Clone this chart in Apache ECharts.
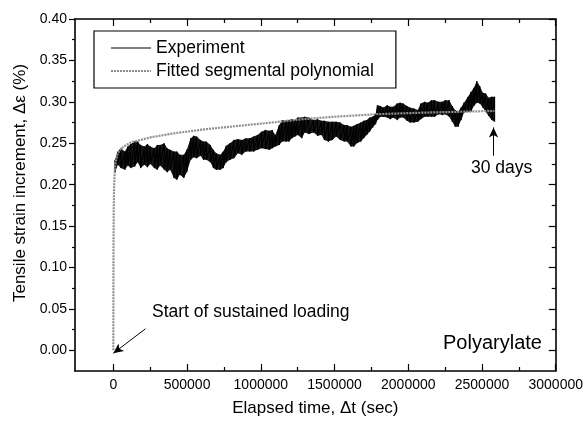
<!DOCTYPE html>
<html>
<head>
<meta charset="utf-8">
<script src="https://cdn.jsdelivr.net/npm/echarts@6/dist/echarts.min.js"></script>
<style>html,body{margin:0;padding:0;background:#fff}#c{width:586px;height:423px}</style>
</head>
<body>
<div id="c"></div>
<script>
// Experiment trace: time (s) with upper / lower excursion of the noisy signal (%)
const expTime = [11000,31000,51000,78000,98000,118000,145000,165000,185000,211000,
231000,251000,278000,298000,318000,345000,365000,385000,411000,431000,
451000,478000,498000,525000,545000,565000,591000,611000,631000,658000,
678000,698000,725000,745000,765000,791000,818000,845000,871000,898000,
925000,951000,978000,1005000,1031000,1058000,1078000,1098000,1125000,1145000,
1171000,1191000,1211000,1231000,1251000,1278000,1298000,1325000,1358000,1385000,
1411000,1431000,1458000,1485000,1511000,1538000,1565000,1585000,1611000,1631000,
1651000,1678000,1698000,1718000,1738000,1758000,1778000,1791000,1811000,1831000,
1858000,1878000,1898000,1925000,1945000,1965000,1991000,2011000,2038000,2065000,
2085000,2111000,2131000,2158000,2178000,2205000,2231000,2251000,2278000,2298000,
2318000,2338000,2358000,2378000,2405000,2425000,2445000,2465000,2485000,2505000,
2525000,2545000,2565000,2585000];
const expHigh = [0.230,0.240,0.244,0.240,0.246,0.249,0.252,0.252,0.248,0.246,
0.249,0.246,0.244,0.248,0.248,0.250,0.244,0.242,0.240,0.240,
0.236,0.236,0.242,0.256,0.259,0.258,0.254,0.252,0.252,0.248,
0.242,0.238,0.236,0.240,0.247,0.250,0.254,0.255,0.254,0.256,
0.256,0.258,0.260,0.264,0.266,0.265,0.266,0.260,0.272,0.278,
0.277,0.278,0.279,0.278,0.281,0.281,0.282,0.281,0.278,0.279,
0.277,0.277,0.276,0.276,0.276,0.275,0.272,0.272,0.270,0.271,
0.273,0.275,0.277,0.278,0.281,0.282,0.285,0.296,0.295,0.293,
0.296,0.294,0.294,0.298,0.299,0.298,0.295,0.293,0.292,0.290,
0.298,0.300,0.299,0.302,0.302,0.300,0.300,0.302,0.302,0.295,
0.290,0.288,0.293,0.299,0.306,0.312,0.317,0.325,0.319,0.311,
0.310,0.305,0.306,0.306];
const expLow = [0.215,0.224,0.220,0.218,0.223,0.220,0.222,0.227,0.220,0.224,
0.221,0.225,0.220,0.218,0.223,0.218,0.215,0.218,0.208,0.206,
0.212,0.208,0.215,0.230,0.233,0.232,0.235,0.230,0.230,0.227,
0.220,0.218,0.218,0.220,0.227,0.230,0.232,0.238,0.236,0.240,
0.240,0.240,0.242,0.244,0.243,0.242,0.244,0.246,0.248,0.252,
0.252,0.252,0.256,0.258,0.260,0.256,0.263,0.261,0.263,0.259,
0.260,0.254,0.252,0.254,0.258,0.254,0.252,0.252,0.246,0.246,
0.250,0.252,0.256,0.260,0.264,0.269,0.273,0.278,0.282,0.282,
0.281,0.279,0.281,0.278,0.281,0.281,0.277,0.275,0.275,0.276,
0.279,0.282,0.282,0.282,0.282,0.285,0.284,0.285,0.282,0.276,
0.270,0.270,0.278,0.287,0.288,0.288,0.295,0.299,0.298,0.293,
0.288,0.283,0.278,0.276];

// Fitted segmental polynomial
const fitTime = [0,1000,2500,5000,8000,12000,20000,31000,50000,80000,120000,165000,250000,411000,631000,851000,1078000,1278000,1500000,1778000,2111000,2585000];
const fitValue = [0,0.12,0.17,0.196,0.21,0.222,0.231,0.238,0.243,0.247,0.251,0.253,0.257,0.262,0.267,0.271,0.275,0.279,0.282,0.285,0.287,0.289];

// Tick labels
const xMajor = [0,500000,1000000,1500000,2000000,2500000,3000000];
const xMinor = [250000,750000,1250000,1750000,2250000,2750000];
const yMajor = [0,0.05,0.10,0.15,0.20,0.25,0.30,0.35,0.40];
const yMinor = [0.025,0.075,0.125,0.175,0.225,0.275,0.325,0.375];

const seriesNames = ['Experiment','Fitted segmental polynomial'];

const expData = [];
for (let i = 0; i < expTime.length; i++) {
  expData.push([expTime[i], expHigh[i]]);
  expData.push([expTime[i], expLow[i]]);
}
const fitData = fitTime.map((t, i) => [t, fitValue[i]]);

const FONT = '"Liberation Sans", Arial, Helvetica, sans-serif';
const X_MIN = -260000, X_MAX = 3000000, Y_MIN = -0.025, Y_MAX = 0.40;
const black = '#000';
const clear = 'rgba(0,0,0,0)';

function xAx(pos, ticks, len, opts) {
  return Object.assign({
    type: 'value', gridIndex: 0, position: pos, min: X_MIN, max: X_MAX,
    axisLine: {show: false, onZero: false},
    axisTick: {show: true, inside: true, length: len, customValues: ticks, lineStyle: {color: black, width: 1.2}},
    axisLabel: {show: false},
    splitLine: {show: false}
  }, opts || {});
}
function yAx(pos, ticks, len, inside, opts) {
  return Object.assign({
    type: 'value', gridIndex: 0, position: pos, min: Y_MIN, max: Y_MAX,
    axisLine: {show: false, onZero: false},
    axisTick: {show: true, inside: inside, length: len, customValues: ticks, lineStyle: {color: black, width: 1.2}},
    axisLabel: {show: false},
    splitLine: {show: false}
  }, opts || {});
}

// noise band of the experiment trace (between the read upper and lower excursions)
function renderBand(params, api) {
  const pts = [];
  for (let i = 0; i < expTime.length; i++) pts.push(api.coord([expTime[i], expHigh[i]]));
  for (let i = expTime.length - 1; i >= 0; i--) pts.push(api.coord([expTime[i], expLow[i]]));
  return {type: 'polygon', shape: {points: pts}, style: {fill: '#161616'}, silent: true};
}

const chart = echarts.init(document.getElementById('c'), null, {renderer: 'canvas'});
chart.setOption({
  animation: false,
  backgroundColor: '#fff',
  textStyle: {fontFamily: FONT},
  grid: {left: 75, top: 19, width: 486, height: 352, show: false},
  legend: {
    orient: 'vertical', left: 94, top: 31,
    borderColor: black, borderWidth: 1.2,
    padding: [8, 22, 8, 16], itemGap: 5, itemWidth: 40, itemHeight: 14,
    textStyle: {fontSize: 17.5, color: black, fontFamily: FONT},
    itemStyle: {color: clear, borderColor: clear, borderWidth: 0, opacity: 0},
    data: [
      {name: seriesNames[0], lineStyle: {color: '#555', width: 1.6}},
      {name: seriesNames[1]}
    ]
  },
  xAxis: [
    xAx('bottom', xMajor, 7, {
      axisLine: {show: true, onZero: false, lineStyle: {color: black, width: 1.6}},
      axisLabel: {show: true, customValues: xMajor, formatter: v => String(v), fontSize: 14, color: black, margin: 7, fontFamily: FONT},
      name: 'Elapsed time, \u0394t (sec)', nameLocation: 'middle', nameGap: 29,
      nameTextStyle: {fontSize: 17, color: black, fontFamily: FONT}
    }),
    xAx('bottom', xMinor, 4),
    xAx('top', xMajor, 7, {axisLine: {show: true, onZero: false, lineStyle: {color: black, width: 1.6}}}),
    xAx('top', xMinor, 4)
  ],
  yAxis: [
    yAx('left', yMajor, 6, false, {
      axisLine: {show: true, onZero: false, lineStyle: {color: black, width: 1.6}},
      axisLabel: {show: true, customValues: yMajor, formatter: v => v.toFixed(2), fontSize: 14, color: black, margin: 8, fontFamily: FONT},
      name: 'Tensile strain increment, \u0394\u03b5 (%)', nameLocation: 'middle', nameGap: 46,
      nameTextStyle: {fontSize: 17, color: black, fontFamily: FONT, padding: [0, 0, 0, 24]}
    }),
    yAx('left', yMinor, 3, false),
    yAx('right', yMajor, 7, true, {axisLine: {show: true, onZero: false, lineStyle: {color: black, width: 1.6}}}),
    yAx('right', yMinor, 4, true)
  ],
  series: [
    {
      name: 'Experiment band', type: 'custom', xAxisIndex: 0, yAxisIndex: 0,
      data: [[expTime[0], expLow[0]]], renderItem: renderBand, z: 1, silent: true
    },
    {
      name: seriesNames[0], type: 'line', xAxisIndex: 0, yAxisIndex: 0,
      data: expData, symbol: 'none', showSymbol: false, z: 2,
      itemStyle: {color: black},
      lineStyle: {color: black, width: 1.2},
      markLine: {
        silent: true, symbol: ['none', 'arrow'], symbolSize: [7, 10],
        label: {show: false},
        lineStyle: {color: black, width: 1, type: 'solid'},
        emphasis: {disabled: true},
        data: [
          [{coord: [218000, 0.026]}, {coord: [0, -0.0036]}],
          [{coord: [2578000, 0.235]}, {coord: [2578000, 0.269]}]
        ]
      }
    },
    {
      name: seriesNames[1], type: 'line', xAxisIndex: 0, yAxisIndex: 0,
      data: fitData, symbol: 'none', showSymbol: false, z: 3,
      itemStyle: {color: '#8f8f8f'},
      lineStyle: {color: '#8f8f8f', width: 2.2, type: [2, 1]}
    }
  ],
  graphic: [
    {type: 'text', x: 152, y: 312, style: {text: 'Start of sustained loading', font: '17.5px ' + FONT, fill: black, verticalAlign: 'middle'}},
    {type: 'text', x: 471, y: 168, style: {text: '30 days', font: '17.5px ' + FONT, fill: black, verticalAlign: 'middle'}},
    {type: 'text', x: 443, y: 343, style: {text: 'Polyarylate', font: '20px ' + FONT, fill: black, verticalAlign: 'middle'}}
  ]
});
</script>
</body>
</html>
